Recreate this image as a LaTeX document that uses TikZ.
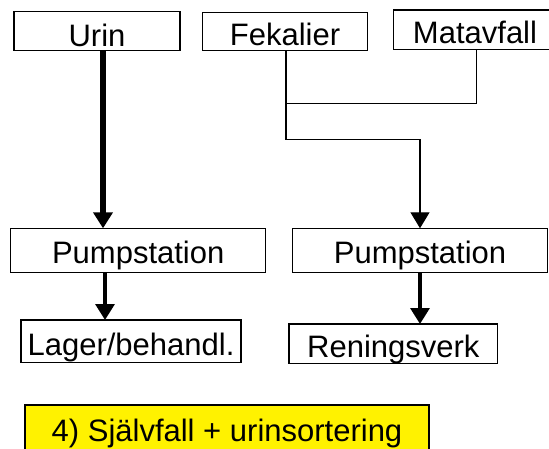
\documentclass[tikz,border=0pt]{standalone}
\usepackage{fontspec}
\setmainfont{Liberation Sans}
\usetikzlibrary{arrows.meta}
\begin{document}
\begin{tikzpicture}[x=1pt,y=-1pt,
  box/.style={draw, line width=1.3pt, inner xsep=0pt, inner ysep=0pt,
    outer sep=0pt, anchor=north west, font=\fontsize{31}{37}\selectfont},
  flow/.style={line width=1.3pt},
  thick flow/.style={line width=3.3pt},
  urine flow/.style={line width=6pt},
  tip/.style={-{Triangle[length=16pt,width=19pt]}}]
\useasboundingbox (0,0) rectangle (549,449);
\clip (0,0) rectangle (549,449);

% sources
\node[box, minimum width=166pt, text height=35pt, text depth=4pt] (urin) at (14,11.7) {Urin};
\node[box, minimum width=164.6pt, text height=33.7pt, text depth=4.7pt] (fek) at (202.7,12.3) {Fekalier};
\node[box, minimum width=163.4pt, text height=33.3pt, text depth=6pt] (mat) at (393.3,10) {Matavfall};

% pumping stations
\node[box, minimum width=255pt, text height=35pt, text depth=9pt] (pumpL) at (10.7,228.3) {Pumpstation};
\node[box, minimum width=254.6pt, text height=35pt, text depth=9pt] (pumpR) at (292.7,228.3) {Pumpstation};

% destinations
\node[box, minimum width=220pt, text height=35pt, text depth=7.7pt] (lager) at (21,320) {Lager/behandl.};
\node[box, minimum width=208.7pt, text height=33.3pt, text depth=6pt] (rening) at (289,324) {Reningsverk};

% caption
\node[box, fill=yellow, minimum width=404pt, text height=36.7pt, text depth=12pt] (caption) at (25,405) {4) Självfall + urinsortering};

% connector guide positions
\coordinate (ux) at (103,0);
\coordinate (fx) at (286,0);
\coordinate (mx) at (476.7,0);
\coordinate (rx) at (420,0);
\coordinate (lx) at (105,0);
\coordinate (jy) at (0,103.3);
\coordinate (cy) at (0,139.3);

% connectors
\draw[urine flow, tip] (urin.south -| ux) -- (pumpL.north -| ux);
\draw[flow] (mat.south -| mx) -- (mx |- jy) -- (fx |- jy);
\draw[flow, tip] (fek.south -| fx) -- (fx |- cy) -- (rx |- cy) -- (pumpR.north -| rx);
\draw[thick flow, tip] (pumpL.south -| lx) -- (lager.north -| lx);
\draw[thick flow, tip] (pumpR.south -| rx) -- (rening.north -| rx);
\end{tikzpicture}
\end{document}
